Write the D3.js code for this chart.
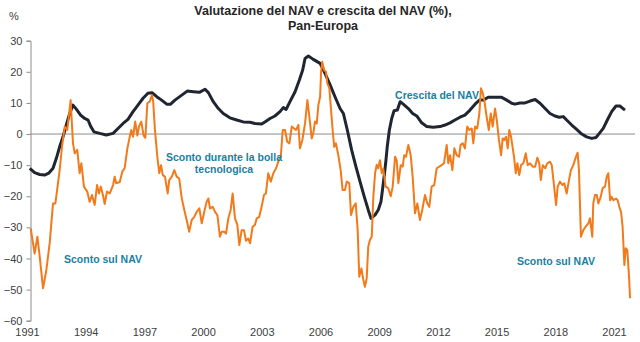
<!DOCTYPE html>
<html>
<head>
<meta charset="utf-8">
<script src="https://cdn.jsdelivr.net/npm/d3@7"></script>
<style>
  body { margin: 0; background: #fff; }
  svg { display: block; font-family: "Liberation Sans", Arial, sans-serif; }
</style>
</head>
<body>
<svg id="chart" width="640" height="342"></svg>
<script>
// crescita del NAV (linea scura)
const navYears = [1991.14, 1991.39, 1991.65, 1991.90, 1992.11, 1992.33, 1992.50, 1992.67, 1992.84, 1993.01,
  1993.18, 1993.35, 1993.52, 1993.74, 1993.95, 1994.12, 1994.26, 1994.42, 1994.72, 1995.05,
  1995.40, 1995.65, 1995.91, 1996.16, 1996.42, 1996.67, 1996.93, 1997.18, 1997.39, 1997.63,
  1997.88, 1998.14, 1998.34, 1998.56, 1998.91, 1999.19, 1999.50, 1999.81, 2000.10, 2000.27,
  2000.52, 2000.78, 2001.03, 2001.37, 2001.72, 2002.05, 2002.40, 2002.65, 2002.99, 2003.16,
  2003.42, 2003.67, 2003.93, 2004.10, 2004.24, 2004.44, 2004.70, 2004.92, 2005.09, 2005.21,
  2005.38, 2005.63, 2005.98, 2006.23, 2006.49, 2006.74, 2007.00, 2007.17, 2007.37, 2007.59,
  2007.81, 2008.02, 2008.24, 2008.44, 2008.58, 2008.79, 2008.95, 2009.09, 2009.21, 2009.33,
  2009.41, 2009.52, 2009.64, 2009.76, 2009.93, 2010.07, 2010.23, 2010.49, 2010.71, 2010.92,
  2011.17, 2011.43, 2011.76, 2012.11, 2012.36, 2012.62, 2012.87, 2013.13, 2013.38, 2013.64,
  2013.90, 2014.12, 2014.32, 2014.57, 2014.92, 2015.26, 2015.52, 2015.77, 2015.94, 2016.19,
  2016.45, 2016.71, 2016.97, 2017.22, 2017.48, 2017.73, 2017.98, 2018.20, 2018.41, 2018.58,
  2018.84, 2019.09, 2019.35, 2019.60, 2019.86, 2020.08, 2020.25, 2020.45, 2020.66, 2020.88,
  2021.10, 2021.30, 2021.56];
const navGrowth = [-11, -12.4, -13, -13.2, -12.6, -11, -7.8, -4.1, -0.9, 2.9,
  6.6, 9.3, 8, 6.1, 5, 4.5, 2.4, 0.7, 0.2, -0.3,
  0.2, 1.8, 3.4, 4.7, 7.2, 9.3, 11.5, 13.1, 13.3, 12,
  10.9, 9.6, 9.6, 10.9, 12.5, 13.8, 13.6, 13.4, 14.4, 13.3,
  10.4, 8.2, 6.6, 5.2, 4.5, 3.9, 3.8, 3.4, 3.2, 3.9,
  5, 5.8, 7.2, 8.5, 7.9, 10.4, 13.6, 17.4, 20.6, 24.3,
  25.1, 24, 22.7, 19.5, 15.8, 12, 8.2, 6.6, 1.3, -5.1,
  -10.5, -15.3, -20.2, -24.4, -27.1, -26, -24.4, -21.8, -15.8, -9.4,
  -4.1, 1.3, 5, 7.5, 7.7, 10.4, 9.6, 8.2, 6.6, 5.8,
  3.6, 2.4, 2.2, 2.4, 2.9, 3.6, 4.5, 5.4, 6.1, 7.7,
  9.6, 10.9, 10.9, 11.8, 11.8, 11.8, 10.9, 9.9, 9.6, 10,
  10, 10.6, 11.1, 9.9, 8.2, 6.6, 5.8, 5.4, 5.6, 4.5,
  2.9, 1.5, 0, -0.9, -1.4, -1.1, 0.2, 1.8, 4.5, 7.2,
  9, 9, 7.7];

// sconto / premio sul NAV (linea arancione)
const discYears = [1991.19, 1991.39, 1991.53, 1991.65, 1991.82, 1991.99, 1992.16, 1992.33, 1992.45, 1992.67,
  1992.79, 1992.93, 1993.06, 1993.23, 1993.35, 1993.44, 1993.57, 1993.69, 1993.78, 1993.91,
  1994.08, 1994.20, 1994.32, 1994.46, 1994.58, 1994.68, 1994.77, 1994.88, 1994.97, 1995.09,
  1995.23, 1995.40, 1995.48, 1995.56, 1995.74, 1995.87, 1995.99, 1996.13, 1996.25, 1996.33,
  1996.42, 1996.53, 1996.64, 1996.72, 1996.84, 1996.96, 1997.05, 1997.15, 1997.27, 1997.39,
  1997.45, 1997.54, 1997.66, 1997.76, 1997.85, 1997.94, 1998.05, 1998.19, 1998.27, 1998.40,
  1998.53, 1998.65, 1998.78, 1998.91, 1999.04, 1999.16, 1999.29, 1999.42, 1999.55, 1999.67,
  1999.81, 1999.93, 2000.06, 2000.18, 2000.27, 2000.35, 2000.49, 2000.61, 2000.73, 2000.86,
  2000.95, 2001.07, 2001.17, 2001.29, 2001.41, 2001.51, 2001.63, 2001.75, 2001.85, 2001.97,
  2002.09, 2002.19, 2002.31, 2002.40, 2002.53, 2002.65, 2002.74, 2002.87, 2002.99, 2003.11,
  2003.21, 2003.33, 2003.46, 2003.59, 2003.73, 2003.84, 2003.97, 2004.07, 2004.19, 2004.30,
  2004.41, 2004.53, 2004.65, 2004.75, 2004.87, 2004.95, 2005.07, 2005.21, 2005.33, 2005.43,
  2005.55, 2005.63, 2005.72, 2005.81, 2005.89, 2005.98, 2006.03, 2006.09, 2006.19, 2006.28,
  2006.35, 2006.45, 2006.54, 2006.62, 2006.70, 2006.79, 2006.91, 2007.03, 2007.13, 2007.25,
  2007.34, 2007.47, 2007.56, 2007.68, 2007.80, 2007.90, 2007.98, 2008.09, 2008.19, 2008.27,
  2008.36, 2008.44, 2008.53, 2008.62, 2008.70, 2008.79, 2008.87, 2008.95, 2009.04, 2009.13,
  2009.21, 2009.33, 2009.46, 2009.59, 2009.69, 2009.81, 2009.89, 2009.98, 2010.10, 2010.20,
  2010.28, 2010.37, 2010.49, 2010.61, 2010.71, 2010.83, 2010.95, 2011.08, 2011.20, 2011.34,
  2011.46, 2011.56, 2011.68, 2011.81, 2011.94, 2012.07, 2012.19, 2012.31, 2012.45, 2012.53,
  2012.62, 2012.74, 2012.84, 2012.96, 2013.08, 2013.16, 2013.27, 2013.38, 2013.50, 2013.60,
  2013.73, 2013.81, 2013.90, 2014.01, 2014.12, 2014.20, 2014.29, 2014.37, 2014.49, 2014.60,
  2014.70, 2014.80, 2014.92, 2015.01, 2015.12, 2015.23, 2015.31, 2015.39, 2015.48, 2015.57,
  2015.65, 2015.74, 2015.89, 2015.98, 2016.06, 2016.16, 2016.25, 2016.37, 2016.49, 2016.59,
  2016.71, 2016.85, 2016.97, 2017.08, 2017.18, 2017.26, 2017.36, 2017.48, 2017.59, 2017.73,
  2017.82, 2017.94, 2018.04, 2018.12, 2018.24, 2018.36, 2018.46, 2018.58, 2018.70, 2018.80,
  2018.92, 2019.04, 2019.14, 2019.21, 2019.26, 2019.31, 2019.43, 2019.55, 2019.69, 2019.77,
  2019.89, 2019.94, 2020.03, 2020.12, 2020.20, 2020.32, 2020.42, 2020.54, 2020.63, 2020.71,
  2020.80, 2020.88, 2020.97, 2021.10, 2021.19, 2021.27, 2021.36, 2021.44, 2021.53, 2021.60,
  2021.68, 2021.77, 2021.82];
const discount = [-30.3, -38.4, -33, -39.4, -49.6, -43.7, -35, -22.3, -22.3, -11.6,
  -4, 2.4, 1.3, 10.9, -3, -6.2, -5.1, -12.6, -9.4, -16.9,
  -18.5, -21.8, -19.6, -22.8, -16.4, -19.1, -16.9, -19.6, -22.5, -18.5,
  -19.1, -16.4, -13.7, -15.8, -15.4, -12.1, -11, -4.6, -0.9, 1.3,
  -0.9, 4, -0.5, 2.4, 4, -0.5, -1.2, 9.9, 10.4, 12.5,
  10.4, 1.3, -7.3, -12.6, -10, -13.2, -13.7, -19.1, -14.8, -13.7,
  -11.6, -13.7, -14.3, -20.7, -24.4, -27.6, -31.4, -27.6, -26.6, -25,
  -23.9, -28.7, -25, -21.8, -20.7, -23.9, -23.4, -25, -26.1, -33,
  -31.4, -31.4, -32, -27.1, -24.4, -19.1, -27.1, -29.2, -35.7, -30.9,
  -30.9, -34.3, -33.6, -35.1, -29.8, -29.2, -27.1, -26.6, -23.4, -19.6,
  -19.1, -12.6, -15.3, -12.6, -11, -8.9, -7.3, 1.3, 1.3, -2.5,
  -3, 2.4, 1.8, 1.3, 2.9, -4.6, -2, 3.4, 10.9, 5.6,
  -1.4, 0.2, 4, 3.4, 9.3, 12, 20, 23.2, 20.5, 20,
  16.3, 14.8, 7.7, 1.3, -4.1, -3, -6.8, -11.6, -18, -18,
  -15.3, -15.8, -26, -23.4, -22.3, -30.9, -45.9, -43.2, -46.9, -49.1,
  -46.4, -36.2, -34, -33, -20.2, -12.6, -9.9, -11, -8.4, -12.6,
  -11.2, -16.9, -17.4, -20, -16.9, -7.3, -8.4, -15.8, -10, -10.5,
  -6.8, -7.3, -3.5, -6.8, -13.7, -25.5, -22.3, -27.6, -24.4, -19.6,
  -22.3, -23.4, -16.9, -16.4, -11, -10.5, -10, -9.4, -3.5, -9.4,
  -6.8, -11.6, -4.6, -6.8, -7.3, -3.5, -3, -4.6, 2.4, 1.3,
  1.8, -3, 2.4, 1.8, 6.6, 14.7, 13.2, 10.9, 5.6, 1.3,
  6.6, 2.4, 8.2, 4.5, -1.9, -6.8, -1.4, -1.9, -0.9, -4.6,
  1.3, -0.9, -7.3, -12.6, -9.4, -13.2, -10, -9.4, -6.2, -10,
  -9.4, -10.5, -10.5, -7.6, -9.4, -14.8, -10, -11, -9.4, -8.9,
  -10, -16.9, -22.8, -16.9, -15.3, -16.4, -15.8, -19.1, -14.8, -11.6,
  -10, -7.6, -6, -11.6, -22.3, -33, -30.9, -29.8, -28.7, -27.1,
  -33, -22.3, -19.6, -19.6, -22.3, -20.2, -17.4, -16.9, -13.7, -12.6,
  -21.3, -20.2, -21.3, -20.7, -21.3, -23.4, -25, -29.8, -42.1, -36.7,
  -37.3, -45.9, -52.8];

const yTicks = [30, 20, 10, 0, -10, -20, -30, -40, -50, -60];
const xTicks = [1991, 1994, 1997, 2000, 2003, 2006, 2009, 2012, 2015, 2018, 2021];

const svg = d3.select("#chart");

const x = d3.scaleLinear().domain([1991, 2021]).range([27, 614]);
const y = d3.scaleLinear().domain([-60, 30]).range([320.7, 40.7]);

// titolo
const title = svg.append("text")
  .attr("x", 323)
  .attr("text-anchor", "middle")
  .attr("font-size", 12.5)
  .attr("font-weight", "bold")
  .attr("fill", "#262626");
title.append("tspan").attr("x", 323).attr("y", 15).text("Valutazione del NAV e crescita del NAV (%),");
title.append("tspan").attr("x", 323).attr("y", 30).text("Pan-Europa");

svg.append("text")
  .attr("x", 9).attr("y", 20)
  .attr("font-size", 11).attr("fill", "#404040")
  .text("%");

// asse y
const yAxis = svg.append("g")
  .attr("transform", "translate(30.5,0)")
  .call(d3.axisLeft(y).tickValues(yTicks).tickSize(4).tickPadding(4));
yAxis.select(".domain").attr("stroke", "#8c8c8c");
yAxis.selectAll(".tick line").attr("stroke", "#8c8c8c");
yAxis.selectAll("text")
  .attr("font-size", 11)
  .attr("font-family", "Liberation Sans, Arial, sans-serif")
  .attr("fill", "#404040");

// etichette anni
const xAxis = svg.append("g")
  .attr("transform", "translate(0,325)")
  .call(d3.axisBottom(x).tickValues(xTicks).tickFormat(d3.format("d")).tickSize(0).tickPadding(3));
xAxis.select(".domain").remove();
xAxis.selectAll("text")
  .attr("font-size", 11)
  .attr("font-family", "Liberation Sans, Arial, sans-serif")
  .attr("fill", "#404040");

// linea dello zero
svg.append("line")
  .attr("x1", 30).attr("x2", 635)
  .attr("y1", y(0)).attr("y2", y(0))
  .attr("stroke", "#8c8c8c")
  .attr("stroke-width", 1);

const lineNav = d3.line()
  .x((d, i) => x(navYears[i]))
  .y(d => y(d));

const lineDisc = d3.line()
  .x((d, i) => x(discYears[i]))
  .y(d => y(d));

svg.append("path")
  .datum(navGrowth)
  .attr("fill", "none")
  .attr("stroke", "#1f2632")
  .attr("stroke-width", 3)
  .attr("stroke-linejoin", "round")
  .attr("d", lineNav);

svg.append("path")
  .datum(discount)
  .attr("fill", "none")
  .attr("stroke", "#f27a1a")
  .attr("stroke-width", 2)
  .attr("stroke-linejoin", "round")
  .attr("d", lineDisc);

// annotazioni
const notes = [
  { t: "Sconto durante la bolla", x: 224, y: 160.5 },
  { t: "tecnologica", x: 224, y: 173 },
  { t: "Crescita del NAV", x: 437, y: 98.5 },
  { t: "Sconto sul NAV", x: 103, y: 262.5 },
  { t: "Sconto sul NAV", x: 556, y: 264.5 }
];
svg.selectAll("text.note")
  .data(notes)
  .enter()
  .append("text")
  .attr("class", "note")
  .attr("x", d => d.x)
  .attr("y", d => d.y)
  .attr("text-anchor", "middle")
  .attr("font-size", 10.5)
  .attr("font-weight", "bold")
  .attr("fill", "#1b7fa3")
  .text(d => d.t);
</script>
</body>
</html>
